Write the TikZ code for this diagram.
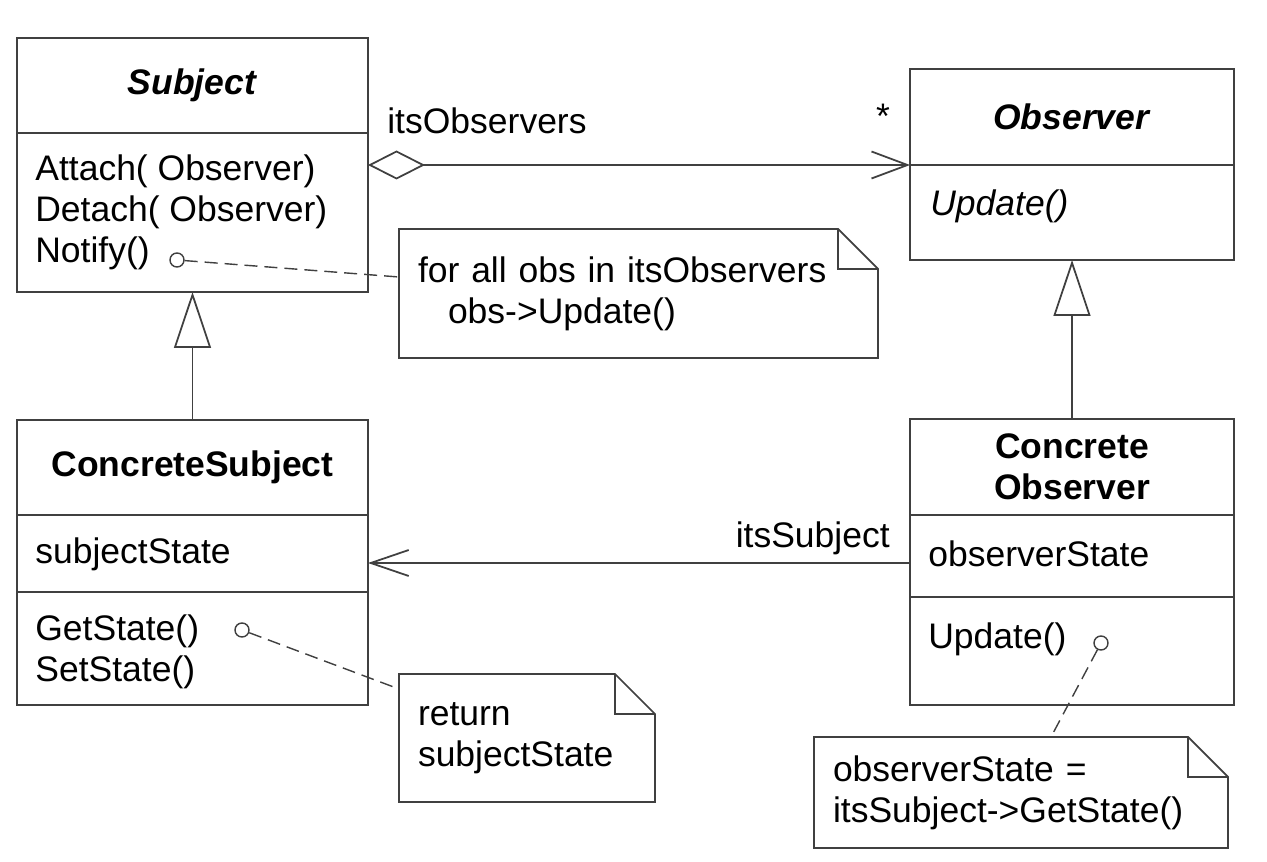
\documentclass[tikz,border=0pt]{standalone}
\usepackage{fontspec}
\setmainfont{Liberation Sans}
\usepackage{tikz}
\usetikzlibrary{arrows.meta,positioning,calc}

\definecolor{umlline}{RGB}{64,64,64}
\newlength{\notefold}
\setlength{\notefold}{0.8cm}
% dog-eared outline round a note node
\newcommand{\dogear}[1]{%
  \draw[umlline, line width=1pt] (#1.north west) -- ([xshift=-\notefold]#1.north east)
      -- ([yshift=-\notefold]#1.north east) -- (#1.south east) -- (#1.south west) -- cycle;
  \draw[umlline, line width=1pt] ([xshift=-\notefold]#1.north east) |- ([yshift=-\notefold]#1.north east);
}

\begin{document}
\begin{tikzpicture}[
      font=\fontsize{20.2pt}{23.3pt}\selectfont,
      classbox/.style={
          rectangle, draw=umlline, fill=white,
          line width=1pt, inner sep=0pt, outer sep=0pt
      },
      leftcol/.style={classbox, minimum width=7.02cm},
      rightcol/.style={classbox, minimum width=6.48cm},
      members/.style={anchor=west, align=left, inner sep=0pt},
      notebox/.style={
          rectangle, inner xsep=0.38cm, inner ysep=0pt,
          outer sep=0pt, align=left
      },
      notepin/.style={
          circle, draw=umlline, fill=white, line width=0.8pt,
          minimum size=0.28cm, inner sep=0pt
      },
      rolelabel/.style={inner sep=0pt},
      aggr/.style={{Diamond[open, length=1.14cm, width=0.58cm]}-{Straight Barb[length=0.72cm, width=0.54cm]}, line width=1pt, draw=umlline},
      navig/.style={-{Straight Barb[length=0.76cm, width=0.52cm]}, line width=1pt, draw=umlline},
      inherit/.style={-{Triangle[open, length=1.12cm, width=0.74cm]}, line width=1pt, draw=umlline},
      noteline/.style={line width=0.8pt, draw=umlline, dash pattern=on 0.26cm off 0.14cm}
  ]

  \useasboundingbox (0,0) rectangle (25.34,17.22);
  \fill[white] (0,0) rectangle (25.34,17.22);

  % Subject
  \node[leftcol, minimum height=1.90cm] (subject) at (3.85,15.51) {\textbf{\textit{Subject}}};
  \node[leftcol, minimum height=3.18cm] (subjectOps) at (3.85,12.97) {};
  \node[members] (subjectOpsText) at (0.70,12.97)
      {Attach( Observer)\\Detach( Observer)\\Notify()};
  \node[notepin] (notifyPin) at (3.54,12.02) {};

  % Observer
  \node[rightcol, minimum height=1.92cm] (observer) at (21.44,14.88) {\textbf{\textit{Observer}}};
  \node[rightcol, minimum height=1.90cm] (observerOps) at (21.44,12.97) {};
  \node[members] (observerOpsText) at (18.60,13.10) {\textit{Update()}};

  % ConcreteSubject
  \node[leftcol, minimum height=1.90cm] (csubject) at (3.85,7.87) {\textbf{ConcreteSubject}};
  \node[leftcol, minimum height=1.54cm] (csubjectAttr) at (3.85,6.15) {};
  \node[leftcol, minimum height=2.26cm] (csubjectOps) at (3.85,4.25) {};
  \node[members] (csubjectAttrText) at (0.70,6.14) {subjectState};
  \node[members] (csubjectOpsText) at (0.70,4.18) {GetState()\\SetState()};
  \node[notepin] (getPin) at (4.84,4.62) {};

  % ConcreteObserver
  \node[rightcol, minimum height=1.92cm, align=center] (cobserver) at (21.44,7.88)
      {\textbf{Concrete}\\\textbf{Observer}};
  \node[rightcol, minimum height=1.64cm] (cobserverAttr) at (21.44,6.10) {};
  \node[rightcol, minimum height=2.16cm] (cobserverOps) at (21.44,4.20) {};
  \node[members] (cobserverAttrText) at (18.56,6.14) {observerState};
  \node[members] (cobserverOpsText) at (18.56,4.44) {Update()};
  \node[notepin] (updatePin) at (22.02,4.36) {};

  % associations
  \draw[aggr] (subjectOps.east |- observer.south) -- (observer.south west);
  \node[rolelabel, anchor=west] (obsrole) at (7.74,14.80) {itsObservers};
  \node[rolelabel] (obsmult) at (17.66,14.90) {*};

  \coordinate (subjlink) at ([yshift=-1.4mm]cobserverAttr.west);
  \draw[navig] (subjlink) -- (subjlink -| csubjectAttr.east);
  \node[rolelabel, anchor=east] (subjrole) at (17.80,6.46) {itsSubject};

  % generalisation
  \draw[inherit] (csubject.north) -- (subjectOps.south);
  \draw[inherit] (cobserver.north) -- (observerOps.south);

  % notes
  \node[notebox, text width=8.82cm, minimum height=2.58cm] (obsnote) at (12.77,11.35)
      {for all obs in itsObservers\\\hspace*{0.6cm}obs->Update()};
  \dogear{obsnote}
  \draw[noteline] (notifyPin) -- ([yshift=3.3mm]obsnote.west);

  \node[notebox, text width=4.36cm, minimum height=2.56cm] (retnote) at (10.54,2.46)
      {return\\subjectState};
  \dogear{retnote}
  \draw[noteline] (getPin) -- ([yshift=-3mm]retnote.north west);

  \node[notebox, text width=7.52cm, minimum height=2.22cm] (statenote) at (20.42,1.37)
      {observerState =\\itsSubject->GetState()};
  \dogear{statenote}
  \draw[noteline] (updatePin) -- ([xshift=6mm]statenote.north);
  \end{tikzpicture}
\end{document}
